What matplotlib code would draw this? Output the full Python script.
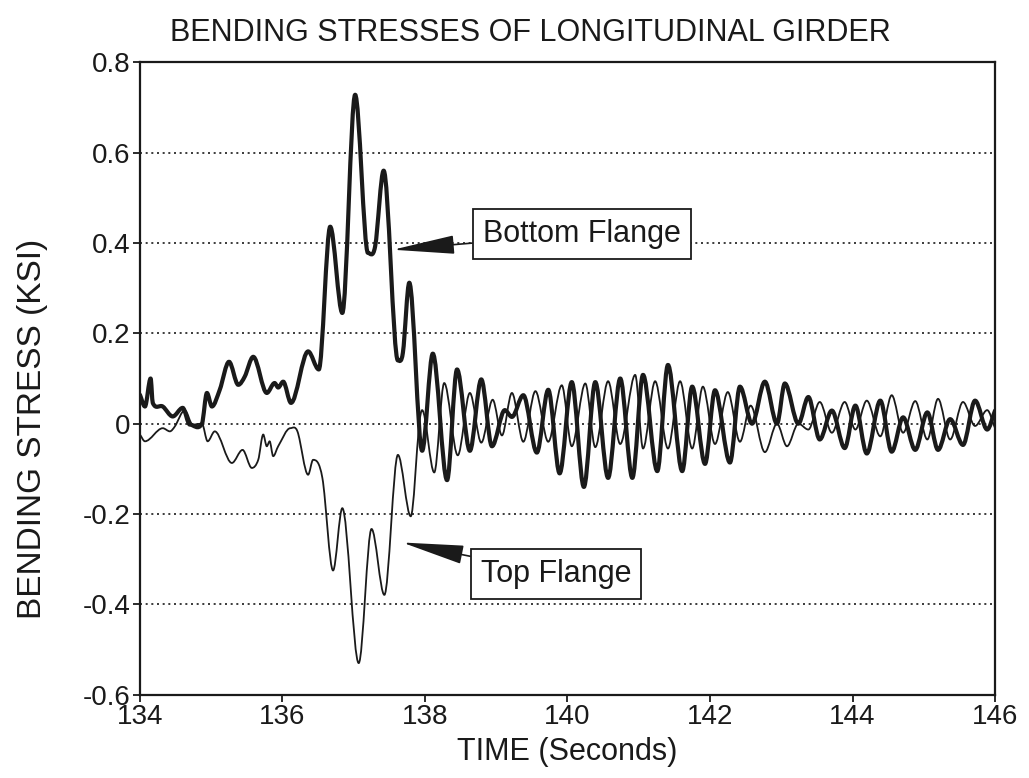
import matplotlib
matplotlib.use("Agg")
import matplotlib.pyplot as plt
from matplotlib.path import Path
from matplotlib.patches import PathPatch
from matplotlib.ticker import FixedLocator, FixedFormatter

plt.rcParams['font.family'] = ['Liberation Sans', 'DejaVu Sans']

# ---- data ----
bottom_t = [134.00, 134.07, 134.15, 134.18, 134.32, 134.46, 134.60, 134.70, 134.87, 134.94,
            135.01, 135.12, 135.25, 135.38, 135.47, 135.59, 135.78, 135.89, 135.94, 136.01,
            136.12, 136.36, 136.51, 136.67, 136.84, 137.02, 137.20, 137.30, 137.42, 137.62,
            137.69, 137.78, 137.96, 138.11, 138.31, 138.45, 138.63, 138.79, 138.94, 139.12,
            139.22, 139.38, 139.57, 139.73, 139.89, 140.06, 140.23, 140.39, 140.57, 140.74,
            140.91, 141.06, 141.26, 141.41, 141.61, 141.75, 141.93, 142.07, 142.28, 142.42,
            142.59, 142.77, 142.94, 143.05, 143.24, 143.38, 143.54, 143.71, 143.89, 144.04,
            144.20, 144.39, 144.55, 144.71, 144.88, 145.05, 145.20, 145.37, 145.55, 145.72,
            145.89, 146.00]
bottom_v = [0.064, 0.038, 0.100, 0.046, 0.038, 0.016, 0.035, -0.002, 0.000, 0.068,
            0.038, 0.075, 0.137, 0.086, 0.104, 0.148, 0.068, 0.090, 0.080, 0.093,
            0.046, 0.160, 0.120, 0.436, 0.245, 0.728, 0.378, 0.392, 0.560, 0.140,
            0.157, 0.312, -0.060, 0.155, -0.125, 0.120, -0.060, 0.098, -0.050, 0.030,
            0.015, 0.063, -0.064, 0.075, -0.110, 0.092, -0.140, 0.092, -0.120, 0.100,
            -0.120, 0.108, -0.105, 0.130, -0.105, 0.082, -0.089, 0.074, -0.086, 0.082,
            0.000, 0.093, 0.000, 0.089, 0.000, 0.059, -0.035, 0.029, -0.054, 0.040,
            -0.066, 0.051, -0.062, 0.014, -0.058, 0.025, -0.058, 0.010, -0.047, 0.051,
            -0.013, 0.029]

top_t = [134.00, 134.07, 134.32, 134.42, 134.49, 134.63, 134.74, 134.87, 134.95, 135.05,
         135.29, 135.44, 135.57, 135.66, 135.73, 135.78, 135.82, 135.87, 135.94, 136.11,
         136.21, 136.36, 136.43, 136.56, 136.71, 136.84, 137.07, 137.25, 137.43, 137.62,
         137.80, 137.92, 137.96, 138.13, 138.27, 138.46, 138.63, 138.79, 138.95, 139.08,
         139.22, 139.38, 139.55, 139.73, 139.92, 140.06, 140.25, 140.39, 140.57, 140.74,
         140.95, 141.06, 141.23, 141.41, 141.58, 141.75, 141.90, 142.07, 142.25, 142.42,
         142.57, 142.77, 142.94, 143.08, 143.24, 143.38, 143.54, 143.71, 143.89, 144.04,
         144.20, 144.39, 144.55, 144.71, 144.88, 145.05, 145.20, 145.37, 145.55, 145.72,
         145.89, 146.00]
top_v = [-0.024, -0.039, -0.010, -0.017, -0.006, 0.030, -0.002, 0.000, -0.039, -0.017,
         -0.087, -0.058, -0.098, -0.080, -0.024, -0.050, -0.039, -0.072, -0.050, -0.010,
         -0.017, -0.113, -0.080, -0.120, -0.325, -0.187, -0.530, -0.233, -0.379, -0.069,
         -0.205, 0.000, 0.030, -0.108, 0.090, -0.070, 0.068, -0.042, 0.053, -0.026,
         0.068, -0.040, 0.072, -0.040, 0.085, -0.050, 0.089, -0.052, 0.094, -0.045,
         0.108, -0.055, 0.094, -0.055, 0.094, -0.055, 0.082, -0.045, 0.070, -0.040,
         0.040, -0.063, 0.000, -0.050, 0.000, -0.013, 0.048, -0.020, 0.048, -0.013,
         0.051, -0.028, 0.063, -0.020, 0.050, -0.035, 0.055, -0.035, 0.048, -0.005,
         0.030, -0.010]

x_ticks = [134, 136, 138, 140, 142, 144, 146]
y_ticks = [-0.6, -0.4, -0.2, 0.0, 0.2, 0.4, 0.6, 0.8]
y_tick_labels = ["-0.6", "-0.4", "-0.2", "0", "0.2", "0.4", "0.6", "0.8"]
grid_levels = [-0.4, -0.2, 0.0, 0.2, 0.4, 0.6]

title = "BENDING STRESSES OF LONGITUDINAL GIRDER"
xlabel = "TIME (Seconds)"
ylabel = "BENDING STRESS (KSI)"


def smooth_path(ts, vs):
    """Bezier path through the read points (flat tangents at turning points)."""
    n = len(ts)
    tang = []
    for i in range(n):
        i0 = max(i - 1, 0)
        i1 = min(i + 1, n - 1)
        dt = (ts[i1] - ts[i0]) / (i1 - i0)
        dv = (vs[i1] - vs[i0]) / (i1 - i0)
        if 0 < i < n - 1 and (vs[i] - vs[i - 1]) * (vs[i + 1] - vs[i]) <= 0:
            dv = 0.0
        tang.append((dt, dv))
    verts = [(ts[0], vs[0])]
    codes = [Path.MOVETO]
    for i in range(n - 1):
        h = (ts[i + 1] - ts[i])
        s0 = h / tang[i][0] if tang[i][0] else 0
        s1 = h / tang[i + 1][0] if tang[i + 1][0] else 0
        c1 = (ts[i] + h / 3, vs[i] + tang[i][1] * s0 / 3)
        c2 = (ts[i + 1] - h / 3, vs[i + 1] - tang[i + 1][1] * s1 / 3)
        verts += [c1, c2, (ts[i + 1], vs[i + 1])]
        codes += [Path.CURVE4] * 3
    return Path(verts, codes)


# ---- figure ----
fig = plt.figure(figsize=(10.29, 7.78), dpi=100)
ax = fig.add_axes([0.136, 0.107, 0.831, 0.813])

ink = "#1a1a1a"
for g in grid_levels:
    ax.axhline(g, color=ink, linestyle=(0, (1.2, 2.2)), linewidth=1.2, zorder=1)

ax.add_patch(PathPatch(smooth_path(top_t, top_v), fill=False, edgecolor=ink,
                       linewidth=1.3, joinstyle="round", capstyle="round", zorder=3))
ax.add_patch(PathPatch(smooth_path(bottom_t, bottom_v), fill=False, edgecolor=ink,
                       linewidth=3.0, joinstyle="round", capstyle="round", zorder=4))

ax.set_xlim(134, 146)
ax.set_ylim(-0.6, 0.8)
ax.xaxis.set_major_locator(FixedLocator(x_ticks))
ax.yaxis.set_major_locator(FixedLocator(y_ticks))
ax.yaxis.set_major_formatter(FixedFormatter(y_tick_labels))
ax.tick_params(direction="out", length=5, width=1.3, labelsize=20, colors=ink, pad=2)

for s in ax.spines.values():
    s.set_linewidth(1.6)
    s.set_color(ink)

fig.text(0.515, 0.958, title, ha="center", va="center", fontsize=22, color=ink)
ax.set_xlabel(xlabel, fontsize=22, color=ink, labelpad=5)
ax.set_ylabel(ylabel, fontsize=24, color=ink)
ax.yaxis.set_label_coords(-0.108, 0.42)

arrow_kw = dict(arrowstyle="-|>,head_length=2.8,head_width=0.42", color=ink,
                linewidth=1.2, shrinkA=0, shrinkB=0, mutation_scale=14)
box_kw = dict(boxstyle="square,pad=0.33", facecolor="white", edgecolor=ink, linewidth=1.3)

ax.annotate("Bottom Flange", xy=(137.55, 0.385), xytext=(140.20, 0.42),
            textcoords="data", ha="center", va="center", fontsize=22, color=ink,
            bbox=box_kw, arrowprops=arrow_kw, zorder=6)
ax.annotate("Top Flange", xy=(137.68, -0.263), xytext=(139.84, -0.332),
            textcoords="data", ha="center", va="center", fontsize=22, color=ink,
            bbox=box_kw, arrowprops=arrow_kw, zorder=6)

fig.savefig("out.png", dpi=100, facecolor="white")
